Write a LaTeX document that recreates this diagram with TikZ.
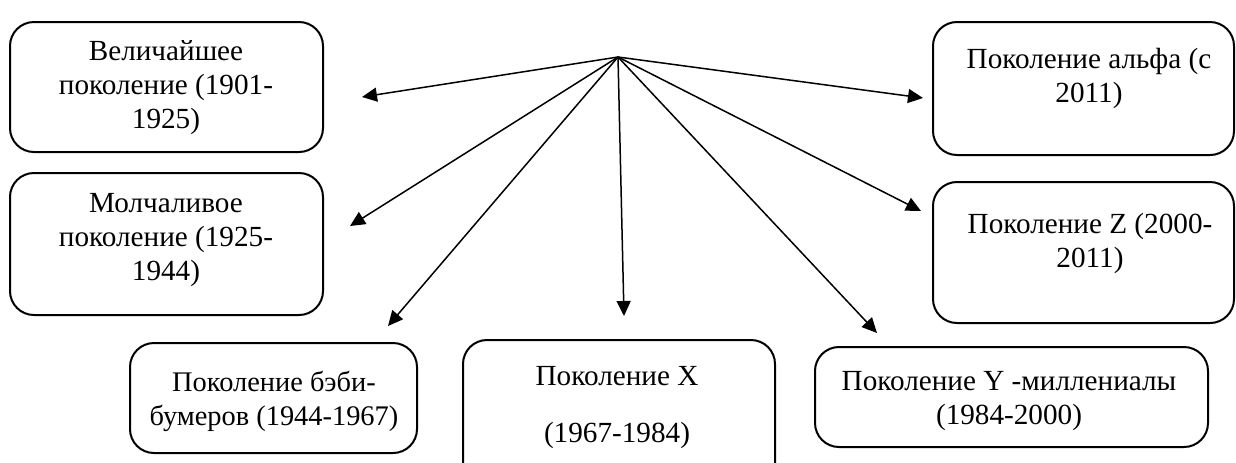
\documentclass[tikz,border=0pt]{standalone}
\usepackage{fontspec}
\setmainfont{Liberation Serif}
\usetikzlibrary{arrows.meta,fit}

\begin{document}
\begin{tikzpicture}[x=0.5pt,y=-0.5pt]
\tikzstyle{genbox}=[draw=black,line width=1pt,rounded corners=12pt,inner sep=0pt]
\tikzstyle{gentext}=[align=center,inner sep=0pt,font=\fontsize{14.6}{17}\selectfont]
\tikzstyle{genarrow}=[line width=0.75pt,-{Triangle[length=7.5pt,width=7pt]}]
\clip (0,0) rectangle (1236,462);
\node [genbox,fit={(10,22) (323,152)}] (greatest) {};
\node [gentext] (greatestTxt) at (166,88) {Величайшее\\поколение (1901-\\1925)};
\node [genbox,fit={(10,173) (323,315)}] (silent) {};
\node [gentext] (silentTxt) at (166,240) {Молчаливое\\поколение (1925-\\1944)};
\node [genbox,fit={(130,343) (417,453)}] (boomers) {};
\node [gentext,font=\fontsize{14.2}{17}\selectfont] (boomersTxt) at (274,401) {Поколение бэби-\\бумеров (1944-1967)};
\node [genbox,fit={(463,340) (775,490)}] (genX) {};
\node [gentext,font=\fontsize{14.6}{28.5}\selectfont] (genXTxt) at (617,408) {Поколение X\\(1967-1984)};
\node [genbox,fit={(815,347) (1208,447)}] (genY) {};
\node [gentext] (genYTxt) at (1009,401) {Поколение Y -миллениалы\\(1984-2000)};
\node [genbox,fit={(933,22) (1234,155)}] (alpha) {};
\node [gentext] (alphaTxt) at (1089,78) {Поколение альфа (с\\2011)};
\node [genbox,fit={(933,182) (1234,323)}] (genZ) {};
\node [gentext] (genZTxt) at (1090,243) {Поколение Z (2000-\\2011)};
\coordinate (hub) at (618,57);
\coordinate (tipGreatest) at (362,97);
\coordinate (tipSilent) at (350,226);
\coordinate (tipBoomers) at (388,326);
\coordinate (tipX) at (624,316);
\coordinate (tipY) at (877,333);
\coordinate (tipZ) at (921,211);
\coordinate (tipAlpha) at (923,98);
\draw [genarrow] (hub) -- (tipGreatest);
\draw [genarrow] (hub) -- (tipSilent);
\draw [genarrow] (hub) -- (tipBoomers);
\draw [genarrow] (hub) -- (tipX);
\draw [genarrow] (hub) -- (tipY);
\draw [genarrow] (hub) -- (tipZ);
\draw [genarrow] (hub) -- (tipAlpha);
\end{tikzpicture}
\end{document}
